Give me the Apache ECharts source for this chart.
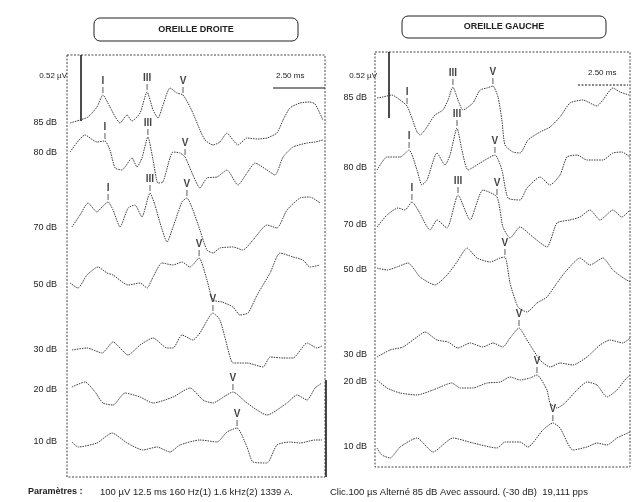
<!DOCTYPE html>
<html>
<head>
<meta charset="utf-8">
<script src="https://cdn.jsdelivr.net/npm/echarts@6/dist/echarts.min.js"></script>
<style>
html,body{margin:0;padding:0;background:#fff;}
#main{width:637px;height:502px;}
</style>
</head>
<body>
<div id="main"></div>
<script>
// niveaux de stimulation (de haut en bas)
var niveaux = ['85 dB','80 dB','70 dB','50 dB','30 dB','20 dB','10 dB'];

// OREILLE DROITE : [temps ms, amplitude µV]
var droite85 = [[0.15,0],[0.63,0.024],[1.02,0.048],[1.45,0.128],[1.74,0.224],[2.08,0.128],[2.37,0.04],[2.57,0],[2.91,0.064],[3.15,0.016],[3.54,0.08],[3.88,0.248],[4.17,0.104],[4.41,0.04],[4.65,0.144],[4.99,0.28],[5.33,0.24],[5.62,0.224],[5.86,0.16],[6.10,0.08],[6.44,-0.056],[6.69,-0.136],[7.07,-0.176],[7.41,-0.152],[7.75,-0.08],[8.04,-0.136],[8.28,-0.176],[8.72,-0.12],[9.21,-0.128],[9.69,-0.12],[10.17,-0.08],[10.47,0.024],[10.80,0.12],[11.29,0.16],[11.77,0.168],[12.02,0.152],[12.40,0.024]];
var droite80 = [[0.15,0.008],[0.87,0.144],[1.45,0.088],[1.84,0.096],[2.08,0.024],[2.33,-0.12],[2.66,-0.136],[3.15,-0.04],[3.39,-0.112],[3.63,-0.04],[3.92,0.128],[4.17,-0.056],[4.41,-0.24],[4.65,-0.232],[5.14,0.008],[5.47,0],[5.72,-0.032],[6.10,-0.176],[6.44,-0.28],[6.78,-0.2],[7.27,-0.192],[7.75,-0.136],[8.28,-0.256],[8.72,-0.16],[9.11,-0.08],[9.69,-0.136],[10.08,-0.176],[10.47,-0.032],[10.95,0.048],[11.63,0.08],[12.02,0.088],[12.40,0.104]];
var droite70 = [[0.24,0.008],[0.63,0.104],[1.02,0.2],[1.45,0.128],[1.70,0.168],[1.99,0.208],[2.23,0.144],[2.57,0.008],[2.96,0.16],[3.29,0.184],[3.63,0.088],[4.02,0.28],[4.26,0.184],[4.51,0.04],[4.85,-0.112],[5.14,0.008],[5.57,0.208],[5.81,0.24],[6.10,0.144],[6.44,-0.016],[6.78,-0.176],[7.07,-0.2],[7.41,-0.16],[8.04,-0.152],[8.53,-0.176],[9.01,-0.096],[9.69,0.024],[10.17,0],[10.66,0.144],[11.29,0.24],[11.77,0.248],[12.26,0.2]];
var droite50 = [[0.15,0.016],[0.53,-0.024],[0.97,0.08],[1.50,0.144],[1.94,0.096],[2.23,0.08],[2.96,0],[3.54,0.016],[3.88,-0.024],[4.17,0.064],[4.60,0.176],[5.14,0.16],[5.57,0.184],[5.96,0.144],[6.40,0.216],[6.78,0.04],[7.07,-0.12],[7.51,-0.136],[8.04,-0.176],[8.38,-0.24],[8.77,-0.224],[9.21,-0.08],[9.84,0.096],[10.32,0.256],[10.95,0.224],[11.43,0.2],[11.77,0.144],[12.26,0.16]];
var droite30 = [[0.24,0],[0.97,0.016],[1.70,-0.024],[2.23,0.064],[2.96,-0.04],[3.54,0.04],[4.17,0.096],[4.85,0.016],[5.14,0.016],[5.57,0.12],[6.10,0.08],[6.44,0.136],[7.07,0.296],[7.41,0.24],[7.90,-0.056],[8.04,-0.104],[8.72,-0.104],[9.50,-0.136],[9.84,-0.056],[10.47,-0.064],[10.95,-0.064],[11.63,0.056],[12.11,0.016],[12.35,0.032]];
var droite20 = [[0.24,0.024],[0.87,0.064],[1.36,-0.016],[1.74,-0.104],[2.23,-0.12],[2.81,-0.024],[3.54,-0.056],[4.17,-0.104],[5.14,-0.056],[5.96,0.016],[6.59,-0.08],[7.07,-0.104],[7.66,-0.048],[8.04,-0.016],[8.72,-0.104],[9.69,-0.2],[10.66,-0.104],[11.14,-0.04],[11.63,-0.08],[12.02,0.016],[12.35,0.056]];
var droite10 = [[0.24,0],[0.53,-0.04],[1.45,-0.008],[2.18,0.072],[2.91,-0.008],[3.68,-0.064],[4.36,-0.04],[4.99,-0.08],[5.47,-0.024],[6.44,0.016],[7.27,0],[7.75,0.08],[8.24,0.112],[8.72,-0.04],[9.01,-0.16],[9.69,-0.168],[10.17,-0.024],[10.80,0],[11.29,-0.008],[12.02,0.016],[12.35,0.016]];

// OREILLE GAUCHE : [temps ms, amplitude µV]
var gauche85 = [[0.10,0],[0.39,0.008],[0.83,0.024],[1.23,-0.016],[1.57,-0.064],[1.81,-0.16],[2.06,-0.272],[2.21,-0.296],[2.45,-0.256],[2.70,-0.192],[2.94,-0.136],[3.33,-0.096],[3.58,-0.016],[3.82,0.088],[4.07,-0.016],[4.31,-0.096],[4.80,-0.04],[5.15,0.064],[5.49,0.08],[5.78,0.096],[6.03,0.008],[6.22,-0.176],[6.37,-0.376],[6.76,-0.432],[7.11,-0.44],[7.50,-0.336],[8.09,-0.272],[8.58,-0.232],[9.07,-0.152],[9.56,-0.04],[10.19,-0.016],[10.88,-0.064],[11.17,-0.016],[11.66,0.08],[12.01,0.048],[12.45,0.024]];
var gauche80 = [[0.10,-0.016],[0.59,0.088],[1.23,0.088],[1.67,0.144],[2.06,-0.016],[2.30,-0.136],[2.55,-0.096],[3.04,0.12],[3.43,0.024],[3.68,0.104],[4.02,0.32],[4.26,0.144],[4.56,-0.016],[5.15,0.04],[5.88,0.104],[6.22,-0.016],[6.52,-0.24],[7.11,-0.256],[7.45,-0.16],[8.09,-0.072],[8.58,-0.136],[9.07,-0.056],[9.41,0.088],[9.90,0.104],[10.39,0.064],[11.17,0.064],[11.66,0.12],[12.10,0.128],[12.50,0.088]];
var gauche70 = [[0.10,-0.016],[0.59,0.08],[1.13,0.136],[1.47,0.12],[1.81,0.184],[2.11,0.12],[2.70,-0.04],[3.04,0.04],[3.53,-0.024],[4.07,0.24],[4.66,0.04],[5.29,0.28],[5.98,0.224],[6.27,-0.016],[6.62,-0.104],[7.11,-0.016],[7.74,-0.096],[8.43,-0.176],[8.92,0.016],[9.56,0.04],[10.05,0.064],[10.54,0.12],[11.03,0.04],[11.66,0.12],[12.10,0.064],[12.50,0.12]];
var gauche50 = [[0.10,0.016],[0.59,0],[1.08,0.024],[1.62,0.056],[2.21,-0.056],[2.94,-0.12],[3.53,-0.04],[4.02,0.064],[4.51,0.176],[5.00,0.096],[5.64,0.064],[6.13,0.096],[6.37,0.104],[6.62,-0.104],[7.01,-0.296],[7.45,-0.336],[7.94,-0.264],[8.43,-0.216],[8.92,-0.104],[9.41,0],[10.05,0.096],[10.54,0.04],[11.17,0.096],[11.66,0],[12.10,-0.056],[12.50,-0.096]];
var gauche30 = [[0.10,-0.016],[0.74,0.04],[1.37,0.064],[2.06,0.144],[2.45,0.184],[3.04,0.12],[3.58,0.104],[4.07,0.056],[4.66,0.096],[5.29,0.064],[5.78,0.096],[6.27,0.064],[6.62,0.136],[7.06,0.216],[7.45,0.12],[8.09,-0.04],[8.58,-0.096],[9.07,-0.064],[9.70,-0.08],[10.39,-0.016],[11.03,0.08],[11.52,0.12],[12.15,0.096],[12.50,0.136]];
var gauche20 = [[0.10,0.016],[0.59,-0.048],[1.23,-0.088],[2.06,-0.104],[2.84,-0.064],[3.77,-0.008],[4.17,-0.048],[4.80,-0.048],[5.49,-0.008],[6.13,0],[6.62,0.04],[7.11,0.016],[7.60,0.032],[7.94,0.056],[8.43,-0.064],[8.58,-0.168],[8.92,-0.208],[9.31,-0.168],[9.90,-0.064],[10.39,0],[10.88,-0.024],[11.37,-0.12],[11.86,-0.064],[12.25,0.016],[12.50,0.056]];
var gauche10 = [[0.10,-0.008],[0.34,-0.064],[0.74,-0.088],[1.23,0],[2.06,0.072],[2.84,-0.04],[3.82,0.072],[4.80,0.032],[5.98,-0.008],[6.37,0.04],[7.11,0.04],[7.50,0],[8.23,0.136],[8.72,0.192],[9.07,0.152],[9.70,-0.024],[10.39,0],[10.88,0.032],[11.37,0.016],[11.86,0.072],[12.50,0.12]];

// pics marqués : [indice du niveau, onde, latence ms]
var droiteMarques = [[0,'I',1.74],[0,'III',3.88],[0,'V',5.62],[1,'I',1.84],[1,'III',3.92],[1,'V',5.72],[2,'I',1.99],[2,'III',4.02],[2,'V',5.81],[3,'V',6.40],[4,'V',7.07],[5,'V',8.04],[6,'V',8.24]];
var gaucheMarques = [[0,'I',1.57],[0,'III',3.82],[0,'V',5.78],[1,'I',1.67],[1,'III',4.02],[1,'V',5.88],[2,'I',1.81],[2,'III',4.07],[2,'V',5.98],[3,'V',6.37],[4,'V',7.06],[5,'V',7.94],[6,'V',8.72]];

var parametres = ['Paramètres :', '100 µV 12.5 ms 160 Hz(1) 1.6 kHz(2) 1339 A.', 'Clic.100 µs Alterné 85 dB Avec assourd. (-30 dB)  19,111 pps'];

//=================================================================================
// mise en page (pixels)
var PX_UV = 125;     // 0.52 µV ~ 65 px
var FONT = 'Liberation Sans, Arial, sans-serif';
var cadreD = {left:67, top:55, width:258, height:422};
var cadreG = {left:375, top:52, width:255, height:415};
var baseD = [123,153,228,285,350,390,442];
var baseG = [98,168,225,270,355,382,447];

var chart = echarts.init(document.getElementById('main'));

function traces(list, bases, cadre, marques, gi) {
  var out = [];
  list.forEach(function(tr, k){
    var off = -(bases[k] - cadre.top) / PX_UV;
    out.push({
      type:'line', xAxisIndex:gi, yAxisIndex:gi, symbol:'none', smooth:0.2, silent:true,
      data: tr.map(function(p){ return [p[0], p[1] + off]; }),
      lineStyle:{color:'#3a3a3a', width:1, type:[1.5,1]}
    });
  });
  var pts = marques.map(function(m){
    var tr = list[m[0]], best = tr[0];
    tr.forEach(function(p){ if (Math.abs(p[0]-m[2]) < Math.abs(best[0]-m[2])) best = p; });
    return {name:m[1], value:[best[0], best[1] - (bases[m[0]] - cadre.top) / PX_UV]};
  });
  out.push({
    type:'scatter', xAxisIndex:gi, yAxisIndex:gi, silent:true, data:pts,
    symbol:'rect', symbolSize:[1,6], symbolOffset:[0,-5],
    itemStyle:{color:'#333'},
    label:{show:true, position:'top', distance:1, formatter:'{b}', color:'#111', fontSize:10, fontWeight:'bold', fontFamily:FONT}
  });
  return out;
}

var series = traces([droite85,droite80,droite70,droite50,droite30,droite20,droite10], baseD, cadreD, droiteMarques, 0)
  .concat(traces([gauche85,gauche80,gauche70,gauche50,gauche30,gauche20,gauche10], baseG, cadreG, gaucheMarques, 1));

function txt(x, y, s, align, extra) {
  var st = {text:s, x:x, y:y, align:align || 'left', verticalAlign:'middle', fill:'#222', font:'9px ' + FONT};
  if (extra) for (var k in extra) st[k] = extra[k];
  return {type:'text', silent:true, style:st};
}
function ligne(x1, y1, x2, y2, w, dash) {
  return {type:'line', silent:true, shape:{x1:x1,y1:y1,x2:x2,y2:y2}, style:{stroke:'#111', lineWidth:w, lineDash:dash || null}};
}
function cadre(c) {
  return {type:'rect', silent:true, shape:{x:c.left,y:c.top,width:c.width,height:c.height}, style:{fill:'none', stroke:'#444', lineWidth:1, lineDash:[2,1.5]}};
}
function titre(x, y, w, h, s) {
  return [
    {type:'rect', silent:true, shape:{x:x,y:y,width:w,height:h,r:6}, style:{fill:'none', stroke:'#222', lineWidth:1}},
    txt(x + w/2, y + h/2, s, 'center', {font:'bold 9px ' + FONT})
  ];
}

var graphics = [cadre(cadreD), cadre(cadreG)]
  .concat(titre(94, 18, 204, 23, 'OREILLE DROITE'))
  .concat(titre(402, 16, 204, 22, 'OREILLE GAUCHE'));
// échelles
graphics.push(ligne(81, 55, 81, 121, 1.5), ligne(273, 88, 325, 88, 1.2));
graphics.push(ligne(389, 52, 389, 118, 1.5), ligne(578, 85, 628, 85, 1, [2,1.5]));
graphics.push(ligne(326, 380, 326, 477, 1.5));
graphics.push(txt(67, 76, '0.52 µV', 'right', {font:'8px ' + FONT}), txt(276, 76, '2.50 ms', 'left', {font:'8px ' + FONT}));
graphics.push(txt(377, 76, '0.52 µV', 'right', {font:'8px ' + FONT}), txt(588, 73, '2.50 ms', 'left', {font:'8px ' + FONT}));
niveaux.forEach(function(n, k){
  graphics.push(txt(57, baseD[k], n, 'right'));
  graphics.push(txt(367, baseG[k], n, 'right'));
});
graphics.push(txt(28, 492, parametres[0], 'left', {font:'bold 9px ' + FONT}));
graphics.push(txt(100, 492, parametres[1], 'left', {font:'9.5px ' + FONT}));
graphics.push(txt(330, 492, parametres[2], 'left', {font:'9.5px ' + FONT}));

chart.setOption({
  animation:false,
  backgroundColor:'#fff',
  grid:[
    {left:cadreD.left, top:cadreD.top, width:cadreD.width, height:cadreD.height},
    {left:cadreG.left, top:cadreG.top, width:cadreG.width, height:cadreG.height}
  ],
  xAxis:[
    {type:'value', gridIndex:0, min:0, max:12.5, show:false},
    {type:'value', gridIndex:1, min:0, max:12.5, show:false}
  ],
  yAxis:[
    {type:'value', gridIndex:0, min:-cadreD.height/PX_UV, max:0, show:false},
    {type:'value', gridIndex:1, min:-cadreG.height/PX_UV, max:0, show:false}
  ],
  series:series,
  graphic:graphics
});
</script>
</body>
</html>
